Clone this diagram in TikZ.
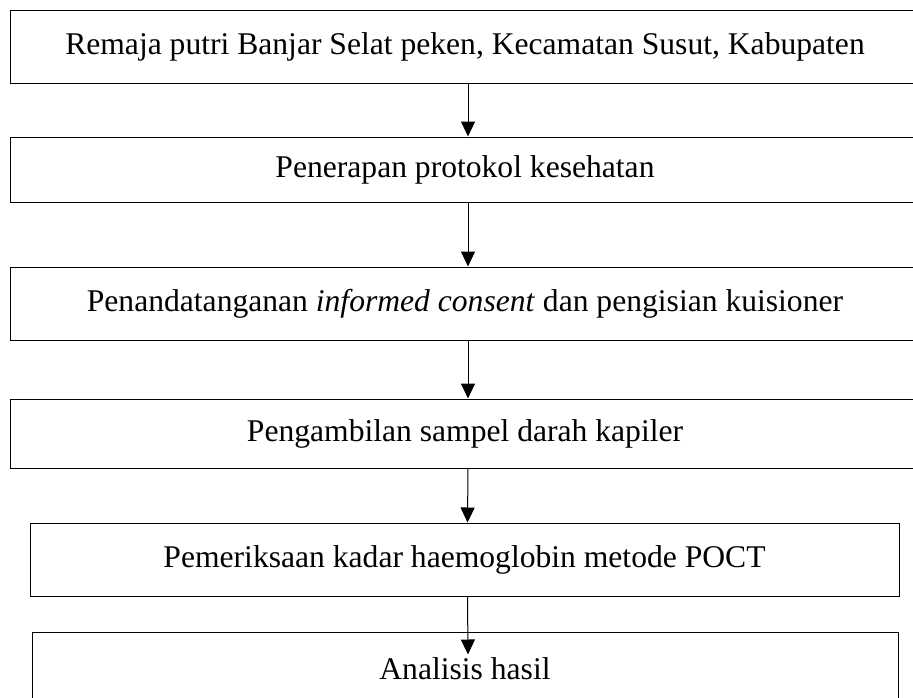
\documentclass[tikz,border=0pt]{standalone}
\usepackage{fontspec}
\setmainfont{Liberation Serif}
\usetikzlibrary{arrows.meta}

\tikzset{
  kotak/.style={draw=black, line width=1pt, minimum width=910pt, minimum height=73pt,
    inner sep=0pt, font=\fontsize{31.6}{38}\selectfont},
  panah/.style={line width=1pt, -{Triangle[length=15pt,width=14pt]}}
}

\begin{document}
\begin{tikzpicture}[x=1pt,y=-1pt]

\clip (0,0) rectangle (913,697);

\node[kotak] (remaja) at (465,47) {Remaja putri Banjar Selat peken, Kecamatan Susut, Kabupaten};

\node[kotak,minimum height=65pt] (protokol) at (465,169.5) {Penerapan protokol kesehatan};

\node[kotak] (consent) at (465,303.5) {Penandatanganan \textit{informed consent} dan pengisian kuisioner};

\node[kotak,minimum height=69pt] (sampel) at (465,433.5) {Pengambilan sampel darah kapiler};

\node[kotak,minimum width=869pt] (poct) at (464.5,559.5) {Pemeriksaan kadar haemoglobin metode POCT};

\node[kotak,minimum width=866pt] (analisis) at (465,668.5) {Analisis hasil};

\draw[panah] ([xshift=3pt]remaja.south) -- ([xshift=3pt]protokol.north);
\draw[panah] ([xshift=3pt]protokol.south) -- ([xshift=3pt]consent.north);
\draw[panah] ([xshift=3pt]consent.south) -- ([xshift=3pt]sampel.north);
\draw[panah] ([xshift=3pt]sampel.south) -- ([xshift=3pt]poct.north);
\draw[panah] ([xshift=3pt]poct.south) -- ([xshift=3pt,yshift=-23pt]analisis.north);

\end{tikzpicture}
\end{document}
